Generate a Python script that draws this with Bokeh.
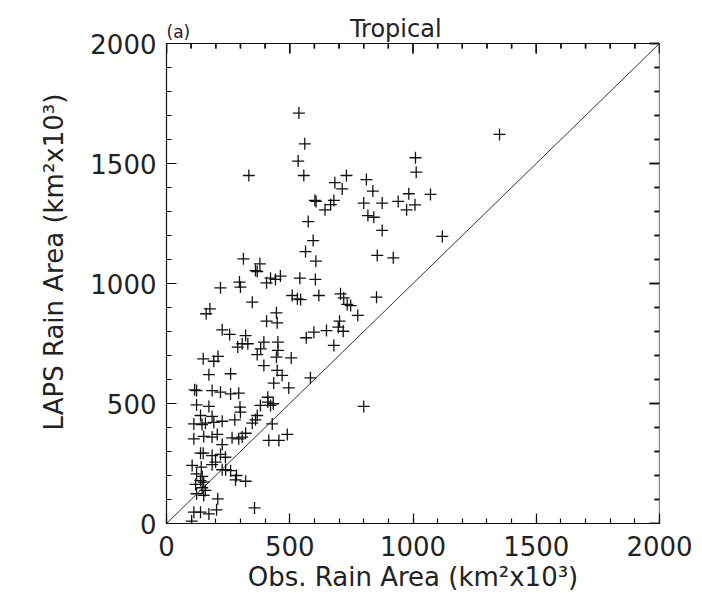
import math
from bokeh.plotting import figure
from bokeh.models import Range1d, FixedTicker
from bokeh.core.properties import value
from bokeh.embed import file_html
from bokeh.resources import INLINE

# ---- data ----
obs = [537, 561, 534, 557, 334, 1010, 1013, 730, 683, 713, 811, 837, 602, 607, 679, 666, 643,
       800, 875, 817, 841, 875, 940, 983, 974, 1008, 1071, 855, 920, 575, 595, 564, 606, 541,
       604, 312, 379, 361, 368, 422, 442, 462, 406, 219, 296, 300, 1119, 1351,
       348, 176, 161, 510, 531, 544, 618, 706, 719, 733, 747, 852, 776, 446, 449, 406, 702,
       697, 717, 649, 598, 567, 679, 226, 256, 321, 330, 307, 289, 395, 382, 452, 452, 446,
       506, 368, 395, 449, 469, 435, 496, 584, 149, 192, 209, 172, 260, 114, 122, 185, 219,
       260, 293, 411, 122, 172, 298, 381, 422, 300, 138, 185, 368, 800, 361, 111, 144, 158,
       192, 226, 277, 348, 429, 111, 151, 185, 206, 226, 266, 293, 307, 321, 415, 456, 490,
       138, 149, 185, 219, 239, 199, 104, 141, 185, 226, 240, 260, 284, 122, 145, 138, 151,
       280, 321, 118, 145, 158, 122, 151, 208, 357, 111, 138, 172, 203, 102, 411, 433]
laps = [1710, 1582, 1510, 1450, 1450, 1524, 1464, 1450, 1420, 1394, 1433, 1385, 1346, 1342,
        1346, 1329, 1307, 1335, 1335, 1283, 1276, 1221, 1342, 1374, 1307, 1328, 1371, 1117,
        1107, 1258, 1179, 1133, 1093, 1022, 1017, 1103, 1082, 1054, 1050, 1022, 1017, 1031,
        1003, 982, 1006, 985, 1196, 1621,
        922, 894, 874, 950, 936, 933, 950, 957, 940, 913, 908, 943, 867, 878, 836, 843, 843,
        818, 801, 804, 797, 774, 742, 807, 788, 783, 749, 749, 735, 756, 728, 756, 721, 693,
        690, 704, 658, 638, 617, 585, 565, 607, 686, 676, 696, 620, 624, 557, 554, 554, 547,
        540, 543, 526, 494, 488, 485, 492, 492, 464, 450, 446, 450, 488, 432, 415, 412, 418,
        421, 426, 432, 418, 415, 353, 363, 360, 371, 329, 357, 353, 360, 376, 346, 346, 371,
        293, 293, 283, 288, 276, 256, 242, 235, 245, 224, 224, 220, 200, 207, 196, 179, 172,
        182, 176, 163, 149, 138, 124, 117, 103, 65, 47, 47, 40, 57, 10, 506, 499]
diag = [0, 2000]
major_ticks = [0, 500, 1000, 1500, 2000]
minor_ticks = list(range(0, 2001, 100))
title_text = "Tropical"
title_x = 930          # data-x where the title is centred
panel_text = "(a)"
xlabel = "Obs. Rain Area (km\u00b2x10\u00b3)"
ylabel = "LAPS Rain Area (km\u00b2x10\u00b3)"

FONT = "DejaVu Sans"
TXT = "#222222"
LINE = "#111111"

# plot box: 493 x 480 px for 0..2000 on both axes; the frame is extended
# upward by 43 px so the heading texts can live inside it
BOX_W, BOX_H, HEAD = 493, 480, 43
lo, hi = major_ticks[0], major_ticks[-1]
xpp = (hi - lo) / BOX_W       # data units per pixel
ypp = (hi - lo) / BOX_H
ytop = hi + HEAD * ypp

p = figure(output_backend="svg", toolbar_location=None,
           x_range=Range1d(lo, hi), y_range=Range1d(lo, ytop),
           frame_width=BOX_W, frame_height=BOX_H + HEAD,
           min_border_left=166, min_border_right=35,
           min_border_top=0, min_border_bottom=72)
p.background_fill_color = "white"
p.border_fill_color = "white"
p.outline_line_color = None
p.grid.visible = False

def style(ax):
    ax.ticker = FixedTicker(ticks=major_ticks, minor_ticks=minor_ticks)
    ax.bounds = (lo, hi)
    ax.axis_line_color = LINE
    ax.axis_line_width = 1.2
    ax.major_tick_line_color = LINE
    ax.minor_tick_line_color = LINE
    ax.major_tick_line_width = 1.2
    ax.minor_tick_line_width = 1.2
    ax.major_tick_in = 10
    ax.major_tick_out = 0
    ax.minor_tick_in = 5
    ax.minor_tick_out = 0
    ax.major_label_text_font = FONT
    ax.major_label_text_font_size = "26px"
    ax.major_label_text_color = TXT
    ax.axis_label_text_font = FONT
    ax.axis_label_text_font_size = "26px"
    ax.axis_label_text_font_style = "normal"
    ax.axis_label_text_color = TXT

xa = p.xaxis[0]
ya = p.yaxis[0]
style(xa)
style(ya)
xa.axis_label = xlabel
ya.axis_label = ylabel
xa.major_label_standoff = 12
xa.axis_label_standoff = 3
ya.major_label_standoff = 10
ya.axis_label_standoff = 18

# top and right edges of the box with inward ticks
p.line([lo, hi, hi], [hi, hi, lo], line_color=LINE, line_width=1.2)
tick_xs, tick_ys = [], []
top_x, top_y, right_x, right_y, tick_len = [], [], [], [], []
for t in minor_ticks:
    ln = (10 if t in major_ticks else 5)
    tick_xs.append([t, t])
    tick_ys.append([hi, hi - ln * ypp])
    tick_xs.append([hi, hi - ln * xpp])
    tick_ys.append([t, t])
    top_x.append(t)
    top_y.append(hi - ln / 2 * ypp)
    right_x.append(hi - ln / 2 * xpp)
    right_y.append(t)
    tick_len.append(ln)
p.multi_line(xs=tick_xs, ys=tick_ys, line_color=LINE, line_width=1.4)
p.scatter(x=top_x, y=top_y, size=tick_len, marker="dash", angle=math.pi / 2,
          line_color=LINE, line_width=1.4)
p.scatter(x=right_x, y=right_y, size=tick_len, marker="dash",
          line_color=LINE, line_width=1.4)

p.line(diag, diag, line_color="#333333", line_width=1)
p.scatter(obs, laps, marker="cross", size=12, line_color="#111111", line_width=1.3)

p.text(x=[title_x], y=[hi], text=[title_text], y_offset=-15,
       text_align="center", text_baseline="alphabetic",
       text_font=value(FONT), text_font_size=value("24px"), text_color=TXT)
p.text(x=[lo], y=[hi], text=[panel_text], y_offset=-12,
       text_align="left", text_baseline="alphabetic",
       text_font=value(FONT), text_font_size=value("17px"), text_color=TXT)

open("out.html", "w").write(file_html(p, INLINE))
